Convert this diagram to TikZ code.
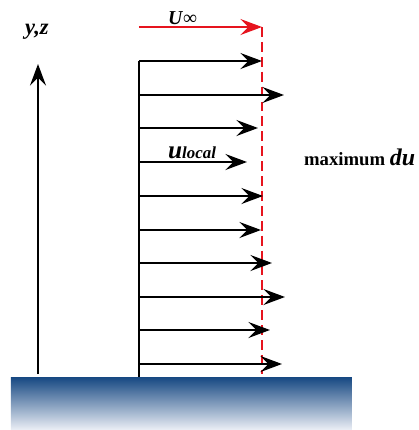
\documentclass[tikz,border=0pt]{standalone}
\usepackage{fontspec}
\setmainfont{Liberation Serif}
\usetikzlibrary{arrows.meta}
\definecolor{wallblue}{RGB}{22,72,130}
\definecolor{wallpale}{RGB}{236,239,246}
\definecolor{edgered}{RGB}{230,20,30}
\begin{document}
\begin{tikzpicture}[x=0.025cm, y=-0.025cm, line width=1.6pt,
  vel/.style={-{Stealth[length=5.4mm,width=4mm,inset=2mm]}}]
  \useasboundingbox (0,0) rectangle (419,430);
  \clip (0,0) rectangle (419,430);
  % wall
  \shade[top color=wallblue, bottom color=wallpale] (11,377) rectangle (352,430);
  % axis
  \coordinate (axbot) at (38,374);
  \coordinate (axtop) at (38,64);
  \draw[vel] (axbot) -- (axtop);
  \node[anchor=base west, inner sep=0pt, font=\fontsize{16}{18}\selectfont\bfseries\itshape] (axlabel) at (24,34) {y,z};
  % free stream
  \coordinate (ufree0) at (139,27);
  \coordinate (ufree1) at (262,27);
  \draw[vel, edgered] (ufree0) -- (ufree1);
  \node[anchor=base west, inner sep=0pt, font=\fontsize{14}{16}\selectfont] (uinf) at (167,24) {\textbf{\textit{U}}∞};
  \draw[edgered, dash pattern=on 7pt off 3.6pt] (ufree1) -- (262,374);
  % velocity profile
  \coordinate (prof0) at (139,61);
  \coordinate (prof1) at (139,377);
  \draw (prof0) -- (prof1);
  \foreach \i/\y/\tip in {1/61/262, 2/95/284, 3/128/258, 4/162/247, 5/196/263,
                         6/230/261, 7/263/272, 8/297/285, 9/330/270, 10/364/282} {
    \coordinate (b\i) at (139,\y);
    \coordinate (t\i) at (\tip,\y);
    \draw[vel] (b\i) -- (t\i);
  }
  \node[anchor=base west, inner sep=0pt, font=\bfseries\itshape] (ulocal) at (167,158)
    {\fontsize{18}{20}\selectfont u\fontsize{12}{14}\selectfont local};
  \node[anchor=base west, inner sep=0pt, font=\fontsize{13.3}{15}\selectfont\bfseries] (maxdu) at (303,165)
    {maximum \fontsize{17}{19}\selectfont\textit{du}};
\end{tikzpicture}
\end{document}
